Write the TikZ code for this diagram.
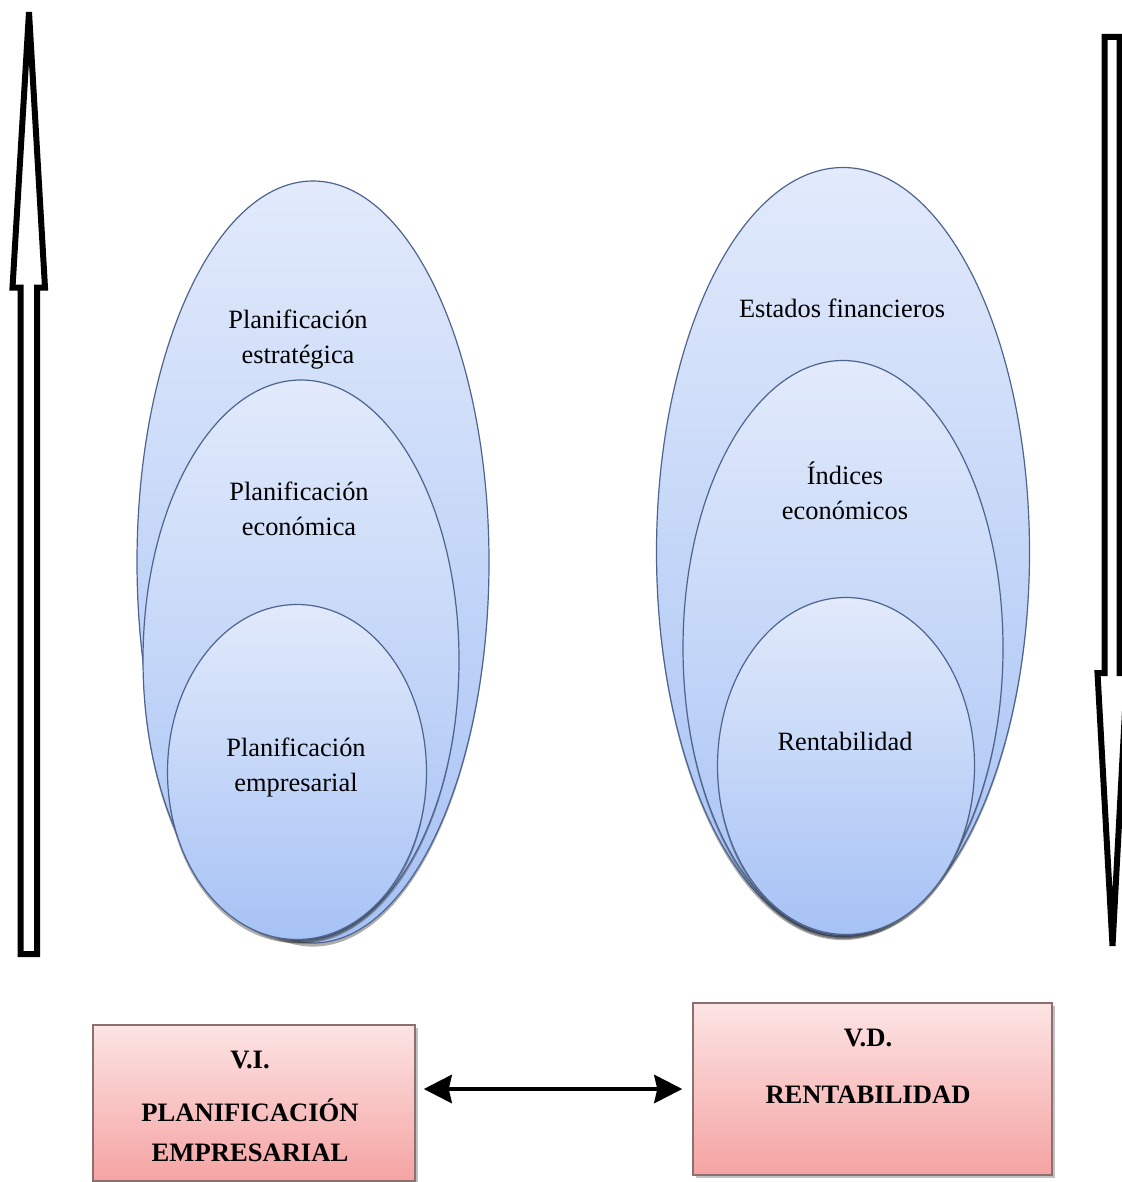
\documentclass[tikz,border=0pt]{standalone}
\usepackage{fontspec}
\setmainfont{Liberation Serif}
\usetikzlibrary{shapes.geometric,shadows,arrows.meta}
\definecolor{ellline}{RGB}{78,100,142}
\definecolor{elltop}{RGB}{226,234,251}
\definecolor{ellbot}{RGB}{166,194,245}
\definecolor{boxline}{RGB}{140,112,112}
\definecolor{boxtop}{RGB}{253,228,228}
\definecolor{boxbot}{RGB}{245,163,163}
\begin{document}
\begin{tikzpicture}[x=0.5pt,y=-0.5pt,
  bubble/.style={ellipse, draw=ellline, line width=0.6pt, inner sep=0pt,
    top color=elltop, bottom color=ellbot,
    drop shadow={shadow xshift=0pt, shadow yshift=-1.8pt, opacity=0.4, fill=black!80}},
  bubbletext/.style={align=center, font=\fontsize{13.2pt}{17.5pt}\selectfont},
  varbox/.style={draw=boxline, line width=0.7pt, inner sep=0pt,
    top color=boxtop, bottom color=boxbot,
    drop shadow={shadow xshift=1.4pt, shadow yshift=-1.4pt, opacity=0.35, fill=black!70}},
  vartext/.style={align=center, font=\bfseries\fontsize{13.3pt}{20pt}\selectfont},
  hollow/.style={draw=black, fill=white, line width=3pt, line join=miter}
]
\useasboundingbox (0,0) rectangle (1122,1182);

% upward hollow arrow on the left
\draw[hollow] (29,12) -- (45,287.5) -- (37,287.5) -- (37,954) -- (20.5,954)
  -- (20.5,287.5) -- (12.5,287.5) -- cycle;

% downward hollow arrow on the right
\draw[hollow] (1104.5,37) -- (1119.5,37) -- (1119.5,673) -- (1127,673)
  -- (1112.5,946) -- (1097.5,673) -- (1104.5,673) -- cycle;

% nested ellipses, independent variable
\node[bubble, minimum width=176pt, minimum height=381pt] (l1) at (313,562) {};
\node[bubble, minimum width=158pt, minimum height=280pt] (l2) at (301,660) {};
\node[bubble, minimum width=129.5pt, minimum height=167.5pt] (l3) at (297,772) {};

% nested ellipses, dependent variable
\node[bubble, minimum width=186.5pt, minimum height=384.5pt] (r1) at (843,552) {};
\node[bubble, minimum width=160pt, minimum height=287.5pt] (r2) at (843,648) {};
\node[bubble, minimum width=128.5pt, minimum height=168.5pt] (r3) at (846,766) {};

\node[bubbletext] (tl1) at (298,339.5) {Planificación\\estratégica};
\node[bubbletext] (tl2) at (299,508.5) {Planificación\\económica};
\node[bubbletext] (tl3) at (296,768) {Planificación\\empresarial};
\node[bubbletext] (tr1) at (842,308) {Estados financieros};
\node[bubbletext] (tr2) at (845,491) {Índices\\económicos};
\node[bubbletext] (tr3) at (845,741) {Rentabilidad};

% variable boxes
\node[varbox, minimum width=161pt, minimum height=78pt] (vi) at (254,1103) {};
\node[varbox, minimum width=179.5pt, minimum height=86pt] (vd) at (872.5,1089) {};
\node[vartext] (vitext) at (250,1106) {V.I.\\[6.5pt]PLANIFICACIÓN\\EMPRESARIAL};
\node[vartext] (vdtext) at (868,1066) {V.D.\\[8.5pt]RENTABILIDAD};

% relation between both variables
\coordinate (rel) at (550,1089);
\draw[line width=2.4pt,
  {Stealth[length=14pt,width=14pt,inset=1.5pt]}-{Stealth[length=14pt,width=14pt,inset=1.5pt]},
  shorten <=4pt, shorten >=5pt] (vi.east |- rel) -- (vd.west |- rel);
\end{tikzpicture}
\end{document}
